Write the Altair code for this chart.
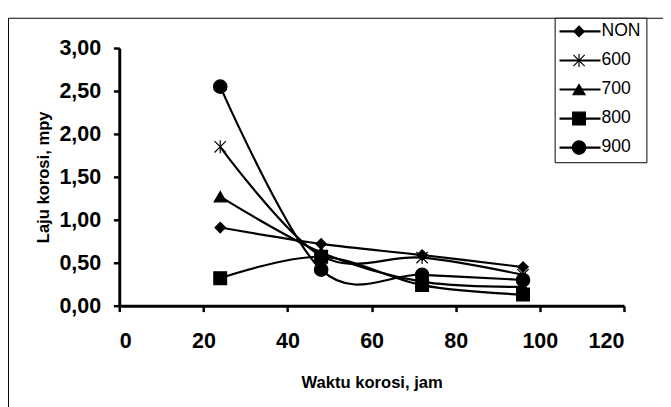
import altair as alt
import pandas as pd

# ---- data ----
hours = [24, 48, 72, 96]
series_names = ["NON", "600", "700", "800", "900"]
val_non = [0.91, 0.72, 0.59, 0.45]
val_600 = [1.85, 0.58, 0.56, 0.36]
val_700 = [1.27, 0.62, 0.28, 0.22]
val_800 = [0.32, 0.57, 0.24, 0.13]
val_900 = [2.55, 0.42, 0.36, 0.30]

x_ticks = [0, 20, 40, 60, 80, 100, 120]
y_ticks = [0, 0.5, 1.0, 1.5, 2.0, 2.5, 3.0]

all_vals = [val_non, val_600, val_700, val_800, val_900]
rows = []
for name, vals in zip(series_names, all_vals):
    for h, v in zip(hours, vals):
        rows.append({"series": name, "jam": h, "mpy": v})
df = pd.DataFrame(rows)
legend_df = pd.DataFrame({"series": series_names})

STAR = "M-1,-1L1,1M-1,1L1,-1M0,-1.15L0,1.15"
shape_scale = alt.Scale(domain=series_names,
                        range=["diamond", STAR, "triangle-up", "square", "circle"])
size_scale = alt.Scale(domain=series_names, range=[115, 190, 150, 130, 140])

FONT = "Liberation Sans"

base = alt.Chart(df)

lines = base.mark_line(interpolate="cardinal", color="black", strokeWidth=2.2).encode(
    x=alt.X("jam:Q", scale=alt.Scale(domain=[0, 120], nice=False),
            axis=alt.Axis(values=x_ticks, title="Waktu korosi, jam", format="d",
                          titlePadding=24, labelPadding=20)),
    y=alt.Y("mpy:Q", scale=alt.Scale(domain=[0, 3], nice=False),
            axis=alt.Axis(values=y_ticks, title="Laju korosi, mpy",
                          labelExpr="replace(format(datum.value, '.2f'), '.', ',')",
                          titlePadding=7, labelPadding=13)),
    detail="series:N",
    order="jam:Q",
)

points = base.mark_point(filled=True, fill="black", stroke="black", strokeWidth=1.2,
                         opacity=1).encode(
    x="jam:Q",
    y="mpy:Q",
    shape=alt.Shape("series:N", scale=shape_scale, legend=None),
    size=alt.Size("series:N", scale=size_scale, legend=None),
)

main = alt.layer(lines, points)

# frame of the chart area and the legend box
frame = alt.Chart(alt.Data(values=[{}])).mark_rect(
    fill="transparent", stroke="black", strokeWidth=1).encode(
    x=alt.value(-113.5), x2=alt.value(700), y=alt.value(-30.5), y2=alt.value(600))

legend_box = alt.Chart(alt.Data(values=[{}])).mark_rect(
    fill="white", stroke="black", strokeWidth=1).encode(
    x=alt.value(446.5), x2=alt.value(540.5), y=alt.value(-30.5), y2=alt.value(117.5))

leg_y = alt.Y("series:N", scale=alt.Scale(type="point", domain=series_names,
                                          range=[-17, 102], padding=0), axis=None)
leg_chart = alt.Chart(legend_df)
leg_rules = leg_chart.mark_rule(color="black", strokeWidth=2.2).encode(
    x=alt.value(451), x2=alt.value(493), y=leg_y)
leg_points = leg_chart.mark_point(filled=True, fill="black", stroke="black",
                                  strokeWidth=1.2, opacity=1).encode(
    x=alt.value(471), y=leg_y,
    shape=alt.Shape("series:N", scale=shape_scale, legend=None),
    size=alt.Size("series:N", scale=size_scale, legend=None))
leg_text = leg_chart.mark_text(align="left", baseline="middle", font=FONT,
                               fontSize=18, color="black").encode(
    x=alt.value(494), y=leg_y, text="series:N")
legend = alt.layer(leg_rules, leg_points, leg_text)

chart = alt.layer(frame, main, legend_box, legend).resolve_scale(
    y="independent"
).properties(
    width=517, height=264,
    autosize=alt.AutoSizeParams(type="none"),
    padding={"left": 114, "top": 36, "right": 40, "bottom": 110},
).configure_view(stroke=None).configure_axis(
    domainColor="black", domainWidth=3, tickColor="black", tickWidth=2.5, tickSize=6,
    labelFont=FONT, labelFontSize=22, labelFontWeight="bold", labelColor="black",
    titleFont=FONT, titleFontSize=17, titleFontWeight="bold", titleColor="black",
    grid=False,
)

chart.save("out.html", embed_options={"renderer": "svg", "actions": False})
